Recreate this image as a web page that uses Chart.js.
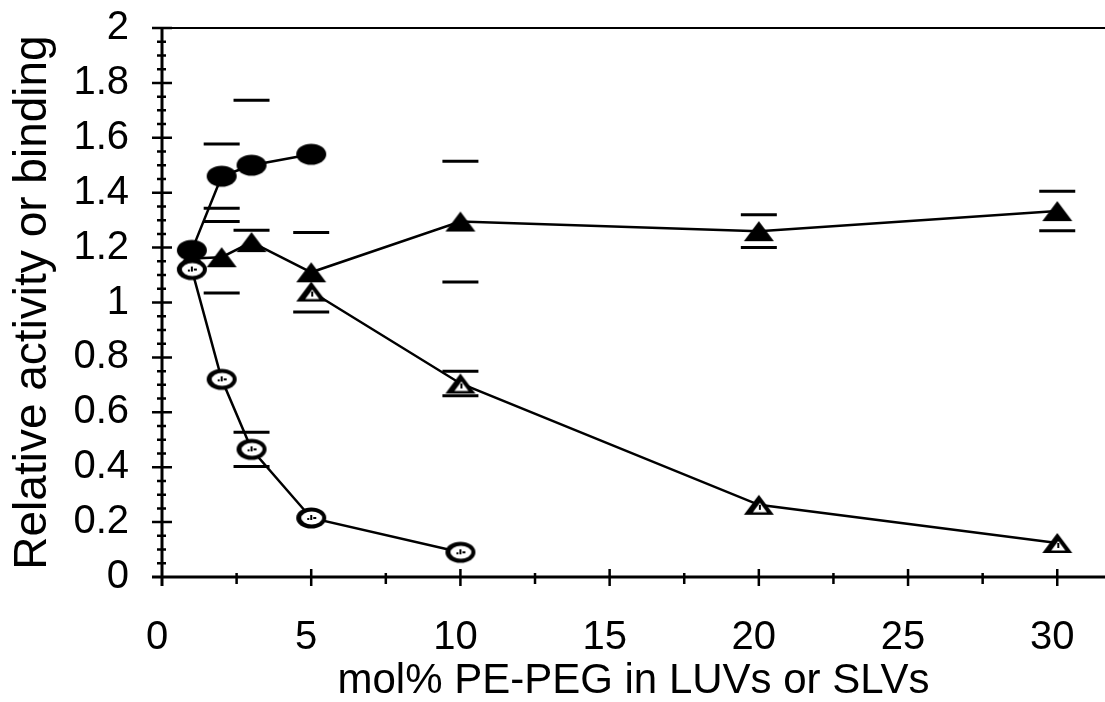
<!DOCTYPE html>
<html>
<head>
<meta charset="utf-8">
<script src="https://cdn.jsdelivr.net/npm/chart.js@4.4.1/dist/chart.umd.min.js"></script>
<style>
  html, body { margin: 0; padding: 0; background: #fff; overflow: hidden; }
  #wrap { width: 1105px; height: 702px; }
  #chart { display: block; }
</style>
</head>
<body>
<div id="wrap"><canvas id="chart" width="1105" height="702"></canvas></div>
<script>
// mol% PE-PEG values for each series
const xFilledCircle = [1, 2, 3, 5];
const xOpenCircle = [1, 2, 3, 5, 10];
const xFilledTri = [1, 2, 3, 5, 10, 20, 30];
const xOpenTri = [5, 10, 20, 30];

// relative activity / binding
const yFilledCircle = [1.19, 1.46, 1.50, 1.54];
const yOpenCircle = [1.12, 0.72, 0.465, 0.215, 0.09];
const yFilledTri = [1.16, 1.165, 1.22, 1.11, 1.295, 1.26, 1.333];
const yOpenTri = [1.04, 0.705, 0.263, 0.124];

// error half-widths (null = no bar shown)
const eFilledCircle = [null, 0.117, 0.237, null];
const eOpenCircle = [null, null, 0.062, null, null];
const eFilledTri = [null, 0.13, null, 0.145, 0.22, 0.06, 0.072];
const eOpenTri = [null, 0.045, null, null];

const xTickLabels = [0, 5, 10, 15, 20, 25, 30];

const FONT = '"Liberation Sans", Arial, sans-serif';

// marker images
function marker(kind) {
  const c = document.createElement('canvas');
  c.width = 34; c.height = 26;
  const g = c.getContext('2d');
  g.strokeStyle = '#000';
  if (kind === 'circle' || kind === 'ocircle') {
    g.beginPath();
    g.ellipse(17, 13, 15, 10.5, 0, 0, Math.PI * 2);
    g.fillStyle = '#000';
    g.fill();
    if (kind === 'ocircle') {
      g.beginPath();
      g.ellipse(17.5, 13, 10.5, 6.5, 0, 0, Math.PI * 2);
      g.fillStyle = '#fff';
      g.fill();
      // a few specks inside, like the scanned symbols
      g.fillStyle = '#000';
      g.fillRect(16, 10, 2, 5);
      g.fillRect(19, 12, 3, 2);
      g.fillRect(13, 13, 2, 2);
    }
  } else {
    g.beginPath();
    g.moveTo(17, 3);
    g.lineTo(32, 23);
    g.lineTo(2, 23);
    g.closePath();
    g.fillStyle = '#000';
    g.fill();
    if (kind === 'otri') {
      g.beginPath();
      g.moveTo(18, 11);
      g.lineTo(25, 20.5);
      g.lineTo(11, 20.5);
      g.closePath();
      g.fillStyle = '#fff';
      g.fill();
      g.fillStyle = '#000';
      g.fillRect(17, 13, 2, 5);
    }
  }
  return c;
}

function pts(xs, ys) {
  return xs.map((x, i) => ({ x: x, y: ys[i] }));
}

function series(label, xs, ys, errs, kind, order) {
  return {
    label: label,
    data: pts(xs, ys),
    errors: errs,
    borderColor: '#000',
    borderWidth: 2.5,
    pointStyle: marker(kind),
    pointRadius: 12,
    showLine: true,
    order: order
  };
}

// draws axis lines, crossing tick marks, and the top frame line
const axesPlugin = {
  id: 'axes',
  beforeDatasetsDraw(chart) {
    const { ctx, chartArea, scales } = chart;
    const xs = scales.x, ys = scales.y;
    ctx.save();
    ctx.strokeStyle = '#000';
    ctx.lineCap = 'butt';
    const x0 = xs.getPixelForValue(0);
    const y0 = ys.getPixelForValue(0);

    ctx.lineWidth = 3;
    ctx.beginPath();
    ctx.moveTo(x0 - 10, y0);
    ctx.lineTo(chartArea.right, y0);
    ctx.moveTo(x0, chartArea.top);
    ctx.lineTo(x0, y0 + 9);
    ctx.stroke();

    ctx.lineWidth = 2;
    ctx.beginPath();
    ctx.moveTo(x0 - 8, chartArea.top);
    ctx.lineTo(chartArea.right, chartArea.top);
    ctx.stroke();

    // x ticks
    ctx.lineWidth = 2.5;
    ctx.beginPath();
    xs.ticks.forEach(t => {
      if (t.value === 0) return;
      const px = xs.getPixelForValue(t.value);
      const major = t.value % 5 === 0;
      ctx.moveTo(px, y0 - (major ? 8 : 4));
      ctx.lineTo(px, y0 + (major ? 9 : 7));
    });
    ctx.stroke();

    // y ticks, major every 0.2, minor every 0.05
    ctx.beginPath();
    for (let i = 1; i <= 40; i++) {
      const py = ys.getPixelForValue(i * 0.05);
      const major = i % 4 === 0;
      ctx.moveTo(x0 - (major ? 10 : 5), py);
      ctx.lineTo(x0 + (major ? 10 : 4), py);
    }
    ctx.stroke();
    ctx.restore();
  }
};

// error bar caps (the figure shows only the caps)
const capsPlugin = {
  id: 'caps',
  afterDatasetsDraw(chart) {
    const { ctx, scales } = chart;
    ctx.save();
    ctx.strokeStyle = '#000';
    ctx.lineWidth = 3;
    ctx.beginPath();
    chart.data.datasets.forEach(ds => {
      ds.data.forEach((p, i) => {
        const e = ds.errors[i];
        if (e == null) return;
        const px = scales.x.getPixelForValue(p.x);
        [p.y + e, p.y - e].forEach(v => {
          const py = scales.y.getPixelForValue(v);
          ctx.moveTo(px - 18, py);
          ctx.lineTo(px + 18, py);
        });
      });
    });
    ctx.stroke();
    ctx.restore();
  }
};

new Chart(document.getElementById('chart'), {
  type: 'scatter',
  data: {
    datasets: [
      series('filled circles', xFilledCircle, yFilledCircle, eFilledCircle, 'circle', 1),
      series('open circles', xOpenCircle, yOpenCircle, eOpenCircle, 'ocircle', 2),
      series('filled triangles', xFilledTri, yFilledTri, eFilledTri, 'tri', 3),
      series('open triangles', xOpenTri, yOpenTri, eOpenTri, 'otri', 4)
    ]
  },
  options: {
    responsive: false,
    animation: false,
    layout: { padding: { top: 28, right: 0, left: 0, bottom: 0 }, autoPadding: false },
    plugins: {
      legend: { display: false },
      tooltip: { enabled: false }
    },
    scales: {
      x: {
        type: 'linear',
        min: 0,
        max: 31.6,
        grid: { display: false, drawTicks: true, tickLength: 37 },
        border: { display: false },
        ticks: {
          stepSize: 2.5,
          includeBounds: false,
          autoSkip: false,
          maxRotation: 0,
          padding: 0,
          labelOffset: -5,
          color: '#000',
          font: { family: FONT, size: 40 },
          callback: v => xTickLabels.includes(v) ? String(v) : ''
        },
        title: {
          display: true,
          text: 'mol% PE-PEG in LUVs or SLVs',
          color: '#000',
          font: { family: FONT, size: 42, lineHeight: 1 },
          padding: { top: 0, bottom: 0 }
        },
        afterFit(scale) {
          scale.height = 125;
          scale.paddingLeft = 0;
          scale.paddingRight = 0;
        }
      },
      y: {
        min: 0,
        max: 2,
        grid: { display: false, drawTicks: false },
        border: { display: false },
        ticks: {
          stepSize: 0.2,
          padding: 33,
          color: '#000',
          font: { family: FONT, size: 40 },
          callback: v => String(Math.round(v * 10) / 10)
        },
        title: {
          display: true,
          text: 'Relative activity or binding',
          color: '#000',
          font: { family: FONT, size: 46, lineHeight: 1.2 },
          padding: { top: 6, bottom: 0 }
        },
        afterFit(scale) {
          scale.width = 162;
          scale.paddingTop = 0;
          scale.paddingBottom = 0;
        }
      }
    }
  },
  plugins: [axesPlugin, capsPlugin]
});
</script>
</body>
</html>
